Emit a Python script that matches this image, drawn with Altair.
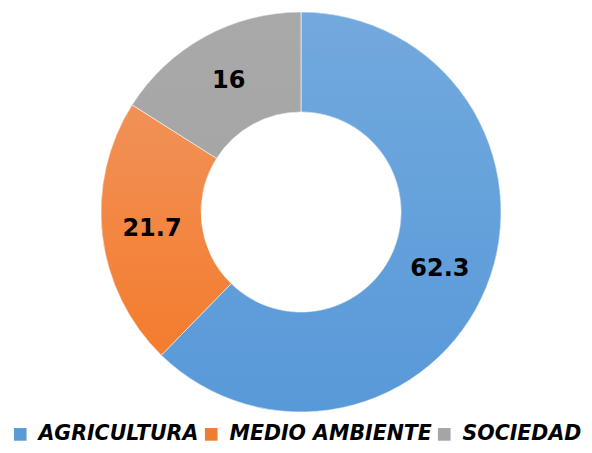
import altair as alt
import pandas as pd

categories = ["AGRICULTURA", "MEDIO AMBIENTE", "SOCIEDAD"]
values = [62.3, 21.7, 16]
labels = ["62.3", "21.7", "16"]
colors = ["#5b9bd5", "#ed7d31", "#a5a5a5"]
grad_top = ["#72a9de", "#f19157", "#a9a9a9"]
grad_bot = ["#5899d8", "#f47c2d", "#a6a6a6"]

df = pd.DataFrame({
    "category": categories,
    "value": values,
    "label": labels,
    "idx": list(range(len(categories))),
})

CX, CY = 293, 204
R_OUT, R_IN = 200, 100

theta_scale = alt.Scale(domain=[0, 100])

base = alt.Chart(df).transform_window(
    end="sum(value)", sort=[alt.SortField("idx", order="ascending")], frame=[None, 0]
).transform_calculate(
    start="datum.end - datum.value",
    mid="datum.end - datum.value / 2",
)

arcs = base.mark_arc(innerRadius=R_IN, outerRadius=R_OUT).encode(
    x=alt.value(CX),
    y=alt.value(CY),
    theta=alt.Theta("start:Q", scale=theta_scale),
    theta2="end:Q",
    color=alt.Color(
        "category:N",
        scale=alt.Scale(domain=categories, range=colors),
        legend=alt.Legend(
            title=None,
            orient="none",
            direction="horizontal",
            legendX=2,
            legendY=416,
            symbolType="square",
            symbolSize=160,
            symbolStrokeWidth=0,
            symbolOpacity=1,
            labelFont="DejaVu Sans",
            labelFontSize=20.5,
            labelFontWeight="bold",
            labelFontStyle="italic",
            labelColor="#000000",
            labelOffset=8,
            columnPadding=2,
            padding=0,
            labelLimit=400,
        ),
    ),
)

layers = [arcs]
for i, c in enumerate(categories):
    g = base.transform_filter(alt.datum.category == c).mark_arc(
        innerRadius=R_IN,
        outerRadius=R_OUT,
        fill=alt.LinearGradient(
            gradient="linear",
            x1=0, x2=0, y1=0, y2=1,
            stops=[
                alt.GradientStop(color=grad_top[i], offset=0),
                alt.GradientStop(color=grad_bot[i], offset=1),
            ],
        ),
        stroke="white",
        strokeWidth=0.6,
    ).encode(
        x=alt.value(CX),
        y=alt.value(CY),
        theta=alt.Theta("start:Q", scale=theta_scale),
        theta2="end:Q",
    )
    layers.append(g)

text = base.mark_text(
    font="DejaVu Sans", fontSize=24, fontWeight="bold", color="#000000",
    align="center", baseline="middle",
).encode(
    x=alt.value(CX),
    y=alt.value(CY),
    theta=alt.Theta("mid:Q", scale=theta_scale),
    radius=alt.value(150),
    text="label:N",
)
layers.append(text)

chart = alt.layer(*layers).properties(
    width=576,
    height=437,
    autosize=alt.AutoSizeParams(type="none"),
    padding=0,
).configure_view(stroke=None)

chart.save("out.html", embed_options={"renderer": "svg", "actions": False})
